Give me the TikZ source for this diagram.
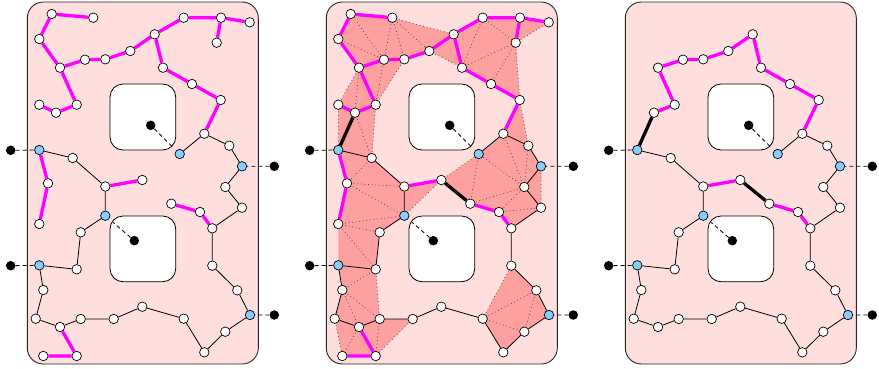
\documentclass[tikz,border=0pt]{standalone}
\usetikzlibrary{calc}
\pgfdeclarelayer{bg}\pgfdeclarelayer{edges}
\pgfsetlayers{bg,edges,main}
\definecolor{bgpink}{RGB}{255,222,222}
\definecolor{shadecol}{RGB}{255,160,160}
\definecolor{vblue}{RGB}{135,206,250}
\definecolor{mag}{RGB}{255,0,255}
\tikzset{
 vtx/.style={circle,draw=black,fill=white,line width=0.7pt,inner sep=0pt,minimum size=9.5pt},
 bvtx/.style={vtx,fill=vblue},
 ext/.style={circle,fill=black,inner sep=0pt,minimum size=9.5pt},
 thinedge/.style={draw=black,line width=0.8pt},
 magedge/.style={draw=mag,line width=3.3pt},
 thickedge/.style={draw=black,line width=3.3pt},
 dashedge/.style={draw=black,line width=0.8pt,dash pattern=on 4pt off 3pt},
 dotl/.style={draw=black!75,line width=1pt,line cap=round,dash pattern=on 0pt off 3.6pt},
 framebox/.style={draw=black!85,fill=bgpink,line width=0.9pt,rounded corners=16pt},
 holebox/.style={draw=black,fill=white,line width=0.8pt,rounded corners=13pt},
}
\newcommand\CoreNodes{%
 \node[vtx] (n4) at (60,67.7) {};
 \node[vtx] (n5) at (85,59.7) {};
 \node[vtx] (n6) at (105.3,59.3) {};
 \node[vtx] (n7) at (130.3,51) {};
 \node[vtx] (n8) at (154.7,34.3) {};
 \node[vtx] (n13) at (163,67.7) {};
 \node[vtx] (n14) at (192,84) {};
 \node[vtx] (n15) at (220.7,100) {};
 \node[vtx] (n16) at (204.3,133.7) {};
 \node[bvtx] (b1) at (179.7,154) {};
 \node[vtx] (n18) at (229.3,145.7) {};
 \node[bvtx] (b2) at (242,166.3) {};
 \node[vtx] (n21) at (56,112.7) {};
 \node[vtx] (n22) at (76.7,104.7) {};
 \node[bvtx] (b3) at (39.3,150) {};
 \node[vtx] (n24) at (72.7,158) {};
 \node[vtx] (n26) at (105.3,186.5) {};
 \node[vtx] (n27) at (142.3,180) {};
 \node[bvtx] (b4) at (105.3,215.7) {};
 \node[vtx] (n30) at (80.7,232.3) {};
 \node[vtx] (n31) at (76.7,269.3) {};
 \node[bvtx] (b5) at (39.3,265.3) {};
 \node[vtx] (n33) at (171.3,203.7) {};
 \node[vtx] (n34) at (200,212) {};
 \node[vtx] (n35) at (212.3,228.3) {};
 \node[vtx] (n36) at (242,207.7) {};
 \node[vtx] (n37) at (225.3,187) {};
 \node[vtx] (n38) at (212.3,265.7) {};
 \node[vtx] (n39) at (237.3,290.3) {};
 \node[bvtx] (b6) at (250,315) {};
 \node[vtx] (n41) at (225.3,331.7) {};
 \node[vtx] (n42) at (204.3,352.3) {};
 \node[vtx] (n43) at (183.7,318.7) {};
 \node[vtx] (n44) at (142.3,306.7) {};
 \node[vtx] (n45) at (113.7,319) {};
 \node[vtx] (n46) at (80.7,319) {};
 \node[vtx] (n47) at (60,327) {};
 \node[vtx] (n48) at (35.7,318.7) {};
 \node[vtx] (n49) at (43.3,290) {};
 \node[ext] (e1) at (10.7,150.3) {};
 \node[ext] (e2) at (10.7,265.7) {};
 \node[ext] (e3) at (274.3,166.3) {};
 \node[ext] (e4) at (274.3,315) {};
 \node[ext] (h1) at (150.7,125.3) {};
 \node[ext] (h2) at (134.3,240.7) {};
}
\newcommand\ExtraNodes{%
 \node[vtx] (n1) at (51.7,14) {};
 \node[vtx] (n2) at (93.3,17.7) {};
 \node[vtx] (n3) at (39.3,39) {};
 \node[vtx] (n9) at (183.7,17.7) {};
 \node[vtx] (n10) at (221,17.7) {};
 \node[vtx] (n11) at (249.7,22.3) {};
 \node[vtx] (n12) at (216.7,42.7) {};
 \node[vtx] (n20) at (39.3,104.7) {};
 \node[vtx] (n25) at (48,183.3) {};
 \node[vtx] (n28) at (39.3,224) {};
 \node[vtx] (n50) at (76.7,356) {};
 \node[vtx] (n51) at (43.3,356) {};
}
\newcommand\FrameBox{\path[framebox] (27.3,2) rectangle (258.3,364);}
\newcommand\Holes{%
 \path[holebox] (110,84) rectangle (175.7,150);
 \path[holebox] (110,216) rectangle (175.7,281.7);
}
\newcommand\CoreEdges{%
 \path[thinedge] (n16)--(b1) (n16)--(n18) (n18)--(b2) (b2)--(n37) (n37)--(n36)
  (n36)--(n35) (n35)--(n38) (n38)--(n39) (n39)--(b6) (b6)--(n41) (n41)--(n42)
  (n42)--(n43) (n43)--(n44) (n44)--(n45) (n45)--(n46) (n46)--(n47) (n47)--(n48)
  (n48)--(n49) (n49)--(b5) (b5)--(n31) (n31)--(n30) (n30)--(b4) (b4)--(n26)
  (b3)--(n24) (n24)--(n26);
 \path[magedge] (n4)--(n5) (n5)--(n6) (n6)--(n7) (n7)--(n8) (n8)--(n13)
  (n13)--(n14) (n14)--(n15) (n15)--(n16) (n4)--(n22) (n22)--(n21) (n26)--(n27)
  (n33)--(n34) (n34)--(n35);
 \path[dashedge] (e1)--(b3) (e2)--(b5) (e3)--(b2) (e4)--(b6)
  (h1)--($(h1)!0.73!(b1)$) (h2)--($(h2)!0.73!(b4)$);
}
\newcommand\ExtraEdges{%
 \path[magedge] (n1)--(n2) (n1)--(n3) (n3)--(n4) (n8)--(n9) (n9)--(n10)
  (n10)--(n11) (n10)--(n12) (n20)--(n21) (b3)--(n25) (n25)--(n28)
  (n47)--(n50) (n50)--(n51);
}
\newcommand\ThickEdges{%
 \path[thickedge] (n21)--(b3) (n27)--(n33);
}
\newcommand\Shading{%
 \fill[shadecol] (n3.center)--(n1.center)--(n2.center)--(n8.center)--(n13.center)
  --(n7.center)--(n6.center)--(n22.center)--(n24.center)--(n26.center)--(n27.center)
  --(b4.center)--(n30.center)--(n31.center)--(n46.center)--(n45.center)--(n50.center)
  --(n51.center)--(n48.center)--(n49.center)--(b5.center)--(n28.center)--(n25.center)
  --(b3.center)--(n20.center)--(n4.center)--cycle;
 \fill[shadecol] (n8.center)--(n9.center)--(n10.center)--(n11.center)--(n12.center)
  --(n15.center)--(n18.center)--(b2.center)--(n36.center)--(n35.center)--(n34.center)
  --(n33.center)--(n27.center)--(b1.center)--(n16.center)--(n15.center)--(n14.center)
  --(n13.center)--cycle;
 \fill[shadecol] (n38.center)--(n39.center)--(b6.center)--(n41.center)--(n42.center)
  --(n43.center)--cycle;
 \path[dotl] (n3.center)--(n5.center) (n1.center)--(n5.center) (n2.center)--(n5.center)
  (n2.center)--(n6.center) (n2.center)--(n7.center) (n2.center)--(n8.center)
  (n7.center)--(n13.center)
  (n4.center)--(n20.center) (n4.center)--(n21.center) (n5.center)--(n22.center)
  (n6.center)--(n22.center)
  (n20.center)--(b3.center) (n21.center)--(n24.center) (n22.center)--(n24.center)
  (n24.center)--(n25.center) (n25.center)--(n26.center) (n25.center)--(b4.center)
  (n28.center)--(b4.center) (n28.center)--(n30.center) (n28.center)--(n31.center)
  (n27.center)--(b4.center)
  (n31.center)--(n49.center) (n31.center)--(n46.center) (n49.center)--(n46.center)
  (n49.center)--(n47.center) (n48.center)--(n51.center) (n47.center)--(n51.center)
  (n46.center)--(n50.center) (n45.center)--(n50.center)
  (n9.center)--(n13.center) (n9.center)--(n12.center) (n13.center)--(n12.center)
  (n14.center)--(n12.center) (n12.center)--(n15.center) (n11.center)--(n12.center)
  (n15.center)--(n18.center)
  (n37.center)--(n18.center) (n37.center)--(n34.center) (n37.center)--(n33.center)
  (n37.center)--(b1.center) (n37.center)--(n16.center) (b1.center)--(n33.center)
  (n27.center)--(b1.center) (n34.center)--(n36.center) (b2.center)--(n36.center)
  (n43.center)--(n38.center) (n43.center)--(n39.center) (n39.center)--(n41.center)
  (n43.center)--(n41.center);
}
\begin{document}
\begin{tikzpicture}[x=1pt,y=-1pt]
\useasboundingbox (0,0) rectangle (879,368);
% panel 1
\begin{scope}[name prefix=pa-]
 \CoreNodes \ExtraNodes
 \begin{pgfonlayer}{bg}\FrameBox \Holes\end{pgfonlayer}
 \begin{pgfonlayer}{edges}\CoreEdges \ExtraEdges\end{pgfonlayer}
\end{scope}
% panel 2
\begin{scope}[xshift=299pt,name prefix=pb-]
 \CoreNodes \ExtraNodes
 \begin{pgfonlayer}{bg}\FrameBox \Shading \Holes\end{pgfonlayer}
 \begin{pgfonlayer}{edges}\CoreEdges \ExtraEdges \ThickEdges\end{pgfonlayer}
\end{scope}
% panel 3
\begin{scope}[xshift=598pt,name prefix=pc-]
 \CoreNodes
 \begin{pgfonlayer}{bg}\FrameBox \Holes\end{pgfonlayer}
 \begin{pgfonlayer}{edges}\CoreEdges \ThickEdges\end{pgfonlayer}
\end{scope}
\end{tikzpicture}
\end{document}
